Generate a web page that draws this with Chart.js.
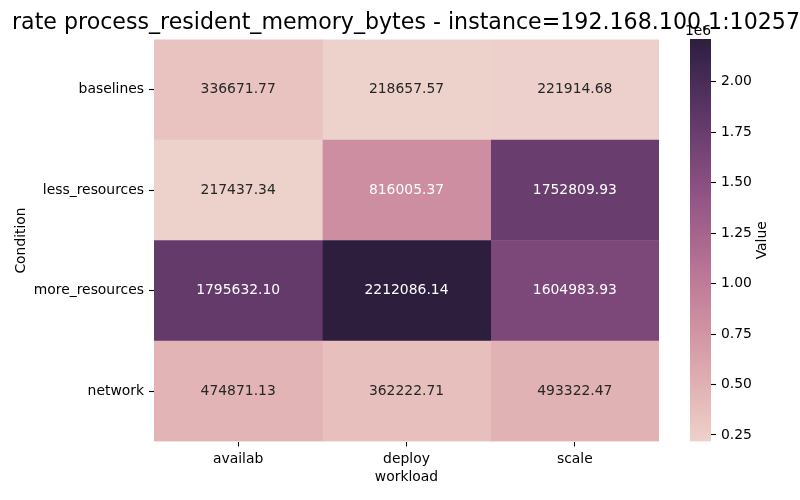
<!DOCTYPE html>
<html>
<head>
<meta charset="utf-8">
<script src="https://cdn.jsdelivr.net/npm/chart.js@4.4.1/dist/chart.umd.min.js"></script>
<style>
  html, body { margin: 0; padding: 0; background: #fff; }
  #wrap { position: relative; width: 800px; height: 500px; }
  canvas { position: absolute; left: 0; top: 0; }
</style>
</head>
<body>
<div id="wrap">
  <canvas id="main" width="800" height="500"></canvas>
  <canvas id="cbar" width="800" height="500"></canvas>
</div>
<script>
// ---- data ----
const titleText = 'rate process_resident_memory_bytes - instance=192.168.100.1:10257';
const conditions = ['baselines', 'less_resources', 'more_resources', 'network'];
const workloads = ['availab', 'deploy', 'scale'];
const availab = [336671.77, 217437.34, 1795632.10, 474871.13];
const deploy  = [218657.57, 816005.37, 2212086.14, 362222.71];
const scale   = [221914.68, 1752809.93, 1604983.93, 493322.47];
const cbarTicks = [0.25, 0.50, 0.75, 1.00, 1.25, 1.50, 1.75, 2.00];
const cbarExponent = '1e6';

const columns = [availab, deploy, scale];
const allVals = columns.flat();
const vmin = Math.min(...allVals);
const vmax = Math.max(...allVals);

// seaborn cubehelix_palette(as_cmap=True) defaults
function cmap(t) {
  const start = 0, rot = 0.4, gamma = 1.0, hue = 0.8, light = 0.85, dark = 0.15;
  const x = light + (dark - light) * Math.min(1, Math.max(0, t));
  const xg = Math.pow(x, gamma);
  const a = hue * xg * (1 - xg) / 2;
  const phi = 2 * Math.PI * (start / 3 + rot * x);
  const f = (p0, p1) => Math.min(1, Math.max(0, xg + a * (p0 * Math.cos(phi) + p1 * Math.sin(phi))));
  return [f(-0.14861, 1.78277), f(-0.29227, -0.90649), f(1.97294, 0.0)];
}
const toCss = c => `rgb(${Math.round(c[0]*255)},${Math.round(c[1]*255)},${Math.round(c[2]*255)})`;
const norm = v => (v - vmin) / (vmax - vmin);
function lum(c) {
  const l = c.map(v => v <= 0.03928 ? v / 12.92 : Math.pow((v + 0.055) / 1.055, 2.4));
  return 0.2126 * l[0] + 0.7152 * l[1] + 0.0722 * l[2];
}

Chart.defaults.font.family = 'DejaVu Sans';
Chart.defaults.font.size = 13.9;
Chart.defaults.color = '#000';

const FS = 13.9;

const cellLabels = {
  id: 'cellLabels',
  afterDatasetsDraw(chart) {
    const ctx = chart.ctx;
    ctx.save();
    ctx.font = `${FS}px "DejaVu Sans"`;
    ctx.textAlign = 'center';
    ctx.textBaseline = 'middle';
    chart.data.datasets.forEach((ds, i) => {
      const meta = chart.getDatasetMeta(i);
      meta.data.forEach((el, j) => {
        const v = ds.values[j];
        const c = cmap(norm(v));
        ctx.fillStyle = lum(c) > 0.408 ? '#262626' : '#ffffff';
        const p = el.getCenterPoint();
        ctx.fillText(v.toFixed(2), p.x, p.y);
      });
    });
    ctx.restore();
  }
};

new Chart(document.getElementById('main'), {
  type: 'bar',
  data: {
    labels: conditions,
    datasets: workloads.map((w, c) => ({
      label: w,
      data: columns[c].map(() => [c, c + 1]),
      values: columns[c],
      backgroundColor: columns[c].map(v => toCss(cmap(norm(v)))),
      borderWidth: 0,
      grouped: false,
      categoryPercentage: 1,
      barPercentage: 1
    }))
  },
  options: {
    indexAxis: 'y',
    responsive: false,
    animation: false,
    devicePixelRatio: 1,
    layout: { padding: { left: 12, right: 0, top: 0, bottom: 11 } },
    plugins: {
      legend: { display: false },
      tooltip: { enabled: false },
      title: {
        display: true,
        text: titleText,
        color: '#000',
        font: { size: 22.2, weight: 'normal', lineHeight: 1.2 },
        padding: { top: 10, bottom: 2.8 }
      }
    },
    scales: {
      y: {
        type: 'category',
        position: 'left',
        offset: true,
        grid: { display: true, drawOnChartArea: false, offset: false, tickLength: 5, tickColor: '#000', tickWidth: 1.1 },
        border: { display: false },
        ticks: { color: '#000', padding: 5, font: { size: FS } },
        title: { display: true, text: 'Condition', color: '#000', font: { size: FS }, padding: { top: 1, bottom: 4 } },
        afterFit: s => { s.width = 142; }
      },
      x: {
        type: 'linear',
        position: 'bottom',
        min: 0,
        max: workloads.length,
        afterBuildTicks: s => { s.ticks = workloads.map((w, i) => ({ value: i + 0.5 })); },
        grid: { display: true, drawOnChartArea: false, tickLength: 5, tickColor: '#000', tickWidth: 1.1 },
        border: { display: false },
        ticks: { color: '#000', padding: 5, font: { size: FS }, autoSkip: false, maxRotation: 0,
                 callback: v => workloads[Math.round(v - 0.5)] },
        title: { display: true, text: 'workload', color: '#000', font: { size: FS }, padding: { top: 4, bottom: 3 } },
        afterFit: s => { s.height = 47.5; }
      },
      yR: {
        type: 'linear',
        position: 'right',
        display: true,
        grid: { display: false },
        border: { display: false },
        ticks: { display: false },
        afterFit: s => { s.width = 141; }
      }
    }
  },
  plugins: [cellLabels]
});

// ---- colour bar ----
const cbarText = {
  id: 'cbarText',
  afterDraw(chart) {
    const ctx = chart.ctx;
    const ca = chart.chartArea;
    const s = chart.scales.y;
    ctx.save();
    ctx.fillStyle = '#000';
    ctx.font = `${FS}px "DejaVu Sans"`;
    ctx.textAlign = 'center';
    ctx.textBaseline = 'alphabetic';
    ctx.fillText(cbarExponent, ca.left + 8, ca.top - 4);
    ctx.translate(s.right - 12, (ca.top + ca.bottom) / 2);
    ctx.rotate(-Math.PI / 2);
    ctx.textBaseline = 'middle';
    ctx.fillText('Value', 0, 0);
    ctx.restore();
  }
};

new Chart(document.getElementById('cbar'), {
  type: 'bar',
  data: {
    labels: [''],
    datasets: [{
      data: [[vmin, vmax]],
      borderWidth: 0,
      categoryPercentage: 1,
      barPercentage: 1,
      backgroundColor: (ctx) => {
        const ca = ctx.chart.chartArea;
        if (!ca) return null;
        const g = ctx.chart.ctx.createLinearGradient(0, ca.bottom, 0, ca.top);
        for (let i = 0; i <= 32; i++) g.addColorStop(i / 32, toCss(cmap(i / 32)));
        return g;
      }
    }]
  },
  options: {
    responsive: false,
    animation: false,
    devicePixelRatio: 1,
    layout: { padding: { left: 690, right: 26, top: 39, bottom: 58.5 } },
    plugins: { legend: { display: false }, tooltip: { enabled: false }, title: { display: false } },
    scales: {
      x: { display: false },
      y: {
        position: 'right',
        min: vmin,
        max: vmax,
        afterBuildTicks: s => { s.ticks = cbarTicks.map(v => ({ value: v * 1e6 })); },
        grid: { display: true, drawOnChartArea: false, tickLength: 5, tickColor: '#000', tickWidth: 1.1 },
        border: { display: false },
        ticks: { color: '#000', padding: 5, font: { size: FS }, autoSkip: false,
                 callback: v => (v / 1e6).toFixed(2) },
        afterFit: s => { s.width = 63; }
      }
    }
  },
  plugins: [cbarText]
});
</script>
</body>
</html>
